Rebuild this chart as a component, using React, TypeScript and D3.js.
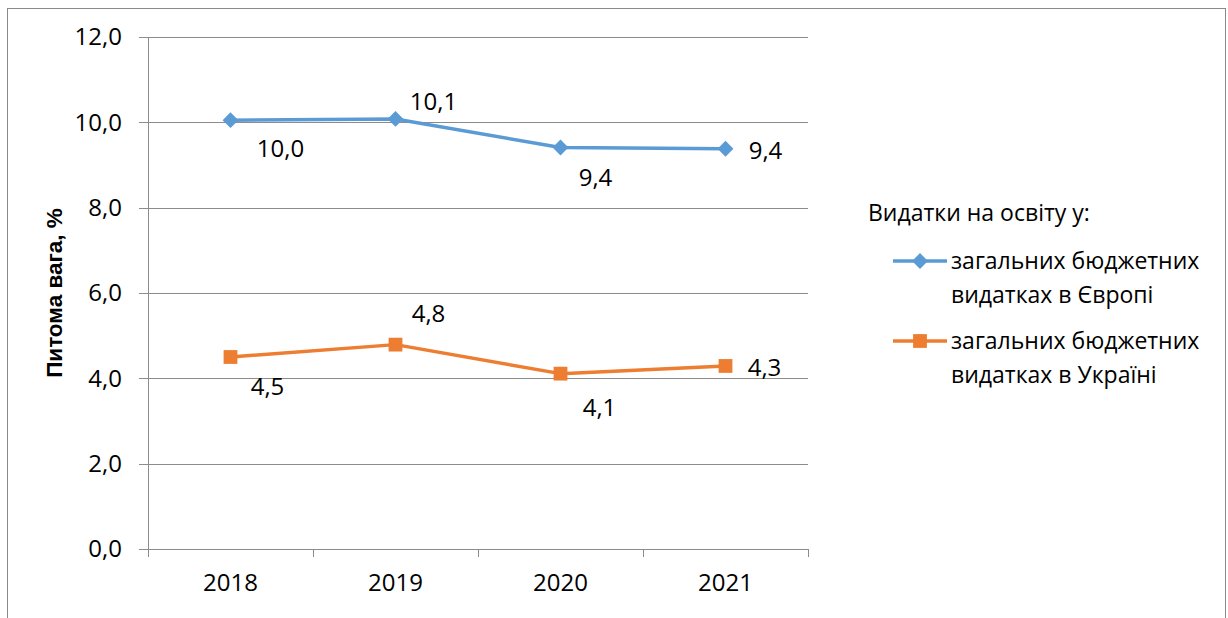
import React from "react";
import * as d3 from "d3";

const years = ["2018", "2019", "2020", "2021"];
const europe = [10.05, 10.08, 9.41, 9.38];
const ukraine = [4.5, 4.79, 4.11, 4.29];
const europeLabels = ["10,0", "10,1", "9,4", "9,4"];
const ukraineLabels = ["4,5", "4,8", "4,1", "4,3"];
const yTicks = [0, 2, 4, 6, 8, 10, 12];
const legendTitle = "Видатки на освіту у:";
const seriesNames = [
  ["загальних бюджетних", "видатках в Європі"],
  ["загальних бюджетних", "видатках в Україні"],
];

const W = 1228, H = 618;
const FONT = "'Open Sans', sans-serif";
const BLUE = "#5B9BD5", ORANGE = "#ED7D31", GRID = "#8C8C8C";

// label offsets relative to point: [dx, dy]
const europeOff = [[50, 28], [38, -17], [35, 30], [40, 2]];
const ukraineOff = [[37, 30], [33, -31], [39, 34], [39, 2]];

export default function App() {
  const x = d3.scaleBand().domain(years).range([148, 808]);
  const y = d3.scaleLinear().domain([0, 12]).range([549, 37]);
  const cx = (d: string) => (x(d) as number) + x.bandwidth() / 2;
  const line = d3.line<number>().x((_, i) => cx(years[i])).y((v) => y(v));
  const boundaries = d3.range(years.length + 1).map((i) => 148 + i * x.bandwidth());
  const fs = 24;
  const lfs = 23;
  const diamond = d3.symbol().type(d3.symbolDiamond2).size(160)();
  const square = d3.symbol().type(d3.symbolSquare).size(190)();

  return (
    <svg width={W} height={H} style={{ position: "absolute", left: 0, top: 0 }} fontFamily={FONT}>
      <rect x={0} y={0} width={W} height={H} fill="#fff" />
      <rect x={7.5} y={8.5} width={1218} height={640} fill="#fff" stroke="#8a8a8a" strokeWidth={1} />
      {yTicks.map((t) => (
        <g key={t}>
          <line x1={139} x2={808} y1={Math.round(y(t)) + 0.5} y2={Math.round(y(t)) + 0.5} stroke={GRID} strokeWidth={1} />
          <text x={122} y={y(t)} dy="0.35em" textAnchor="end" fontSize={fs} fill="#000">
            {t.toFixed(1).replace(".", ",")}
          </text>
        </g>
      ))}
      <line x1={148.5} x2={148.5} y1={37} y2={557} stroke={GRID} />
      {boundaries.map((b, i) => (
        <line key={i} x1={Math.round(b) + 0.5} x2={Math.round(b) + 0.5} y1={549} y2={557} stroke={GRID} />
      ))}
      {years.map((d) => (
        <text key={d} x={cx(d)} y={583} dy="0.35em" textAnchor="middle" fontSize={fs} fill="#000">{d}</text>
      ))}
      <text transform={`translate(54,${y(6)}) rotate(-90)`} textAnchor="middle" dy="0.35em" fontSize={22.5}
        fontFamily="'Liberation Sans', Arial, sans-serif" fontWeight="bold" fill="#000">
        Питома вага, %
      </text>
      <path d={line(europe) || ""} fill="none" stroke={BLUE} strokeWidth={3.5} strokeLinejoin="round" />
      <path d={line(ukraine) || ""} fill="none" stroke={ORANGE} strokeWidth={3.5} strokeLinejoin="round" />
      {europe.map((v, i) => (
        <path key={i} d={diamond || ""} transform={`translate(${cx(years[i])},${y(v)})`} fill={BLUE} />
      ))}
      {ukraine.map((v, i) => (
        <path key={i} d={square || ""} transform={`translate(${cx(years[i])},${y(v)})`} fill={ORANGE} />
      ))}
      {europe.map((v, i) => (
        <text key={i} x={cx(years[i]) + europeOff[i][0]} y={y(v) + europeOff[i][1]} dy="0.35em" textAnchor="middle" fontSize={fs} fill="#000">
          {europeLabels[i]}
        </text>
      ))}
      {ukraine.map((v, i) => (
        <text key={i} x={cx(years[i]) + ukraineOff[i][0]} y={y(v) + ukraineOff[i][1]} dy="0.35em" textAnchor="middle" fontSize={fs} fill="#000">
          {ukraineLabels[i]}
        </text>
      ))}
      <text x={868} y={213} dy="0.35em" fontSize={lfs} fill="#000">{legendTitle}</text>
      {seriesNames.map((nm, i) => {
        const ly = 261 + i * 80;
        return (
          <g key={i}>
            <line x1={893} x2={947} y1={ly} y2={ly} stroke={i === 0 ? BLUE : ORANGE} strokeWidth={3.5} />
            <path d={(i === 0 ? diamond : square) || ""} transform={`translate(920,${ly})`} fill={i === 0 ? BLUE : ORANGE} />
            <text x={951} y={ly} dy="0.35em" fontSize={lfs} fill="#000">{nm[0]}</text>
            <text x={951} y={ly + 34} dy="0.35em" fontSize={lfs} fill="#000">{nm[1]}</text>
          </g>
        );
      })}
    </svg>
  );
}
